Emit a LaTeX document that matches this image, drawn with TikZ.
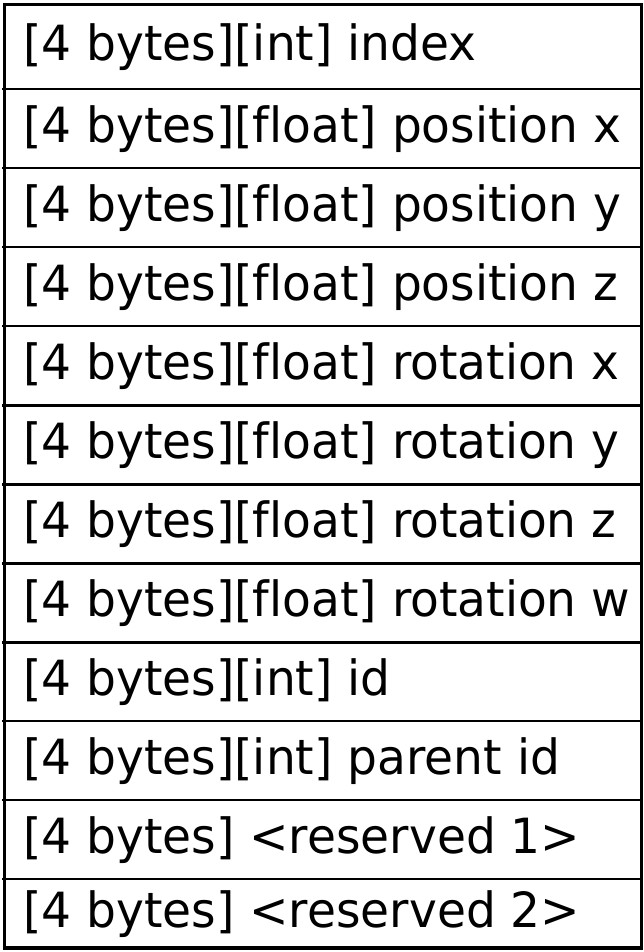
\documentclass[tikz,border=0pt]{standalone}
\usepackage{fontspec}
\setmainfont[Ligatures=NoCommon,FakeStretch=0.971]{DejaVu Sans}
\begin{document}
\begin{tikzpicture}[x=1pt,y=-1pt,
  frame/.style={line width=3.2pt},
  rule/.style={line width=2.2pt},
  field/.style={anchor=base west,inner sep=0pt,font=\fontsize{48.5}{58}\selectfont}]
\useasboundingbox (0,0) rectangle (644,952);
% separators between fields
\foreach \y in {89,168,247,326,405.5,484.5,563.5,642.5,721,800,879}
  \draw[rule] (2,\y) -- (641.5,\y);
% outer frame
\draw[frame] (4.5,4.5) rectangle (641.5,948);
% field labels, baseline placed on the vertical centre of each row
\node[field] (f1)  at (23,{(4.5+89)/2+13.8})   {[4 bytes][int] index};
\node[field] (f2)  at (23,{(89+168)/2+13.8})   {[4 bytes][float] position x};
\node[field] (f3)  at (23,{(168+247)/2+13.8})  {[4 bytes][float] position y};
\node[field] (f4)  at (23,{(247+326)/2+13.8})  {[4 bytes][float] position z};
\node[field] (f5)  at (23,{(326+405.5)/2+13.8}) {[4 bytes][float] rotation x};
\node[field] (f6)  at (23,{(405.5+484.5)/2+13.8}) {[4 bytes][float] rotation y};
\node[field] (f7)  at (23,{(484.5+563.5)/2+13.8}) {[4 bytes][float] rotation z};
\node[field] (f8)  at (23,{(563.5+642.5)/2+13.8}) {[4 bytes][float] rotation w};
\node[field] (f9)  at (23,{(642.5+721)/2+13.8}) {[4 bytes][int] id};
\node[field] (f10) at (23,{(721+800)/2+13.8})   {[4 bytes][int] parent id};
\node[field] (f11) at (23,{(800+879)/2+13.8})   {[4 bytes] <reserved 1>};
\node[field] (f12) at (23,{(879+948)/2+13.8})   {[4 bytes] <reserved 2>};
\end{tikzpicture}
\end{document}
